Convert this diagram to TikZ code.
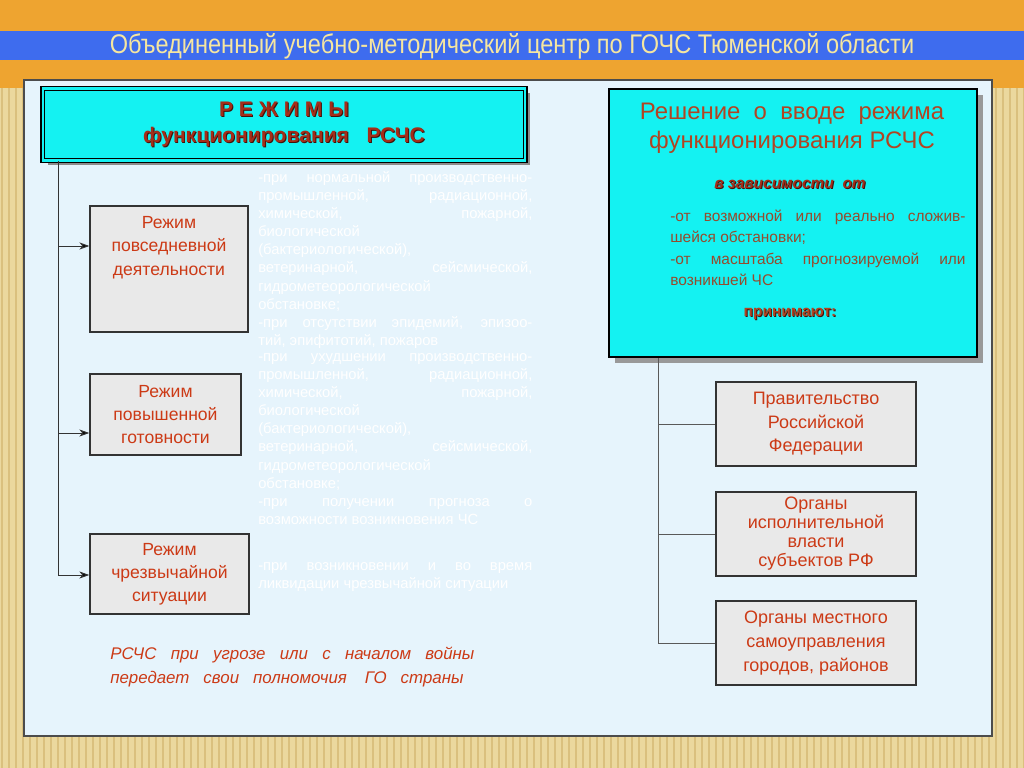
\documentclass[tikz,border=0pt]{standalone}
\usepackage{fontspec}
\setmainfont{Liberation Sans}
\usepackage{graphicx}
\usepackage{xcolor}
\usepackage{tikz}
\usetikzlibrary{arrows,arrows.meta,shadows}

\definecolor{orangeband}{RGB}{238,164,48}
\definecolor{blueband}{RGB}{62,108,238}
\definecolor{titletxt}{RGB}{246,230,160}
\definecolor{wood}{RGB}{235,216,158}
\definecolor{woodline}{RGB}{218,192,126}
\definecolor{panel}{RGB}{230,244,252}
\definecolor{cyanbox}{RGB}{20,242,242}
\definecolor{boxgray}{RGB}{233,233,233}
\definecolor{redtxt}{RGB}{204,58,22}
\definecolor{headred}{RGB}{165,45,25}
\definecolor{headbr}{RGB}{178,68,34}
\definecolor{listbr}{RGB}{150,75,45}

\newcommand{\tenshad}[1]{\rlap{\kern0.7pt\raisebox{-0.7pt}{\color{black!60!headred}#1}}#1}

\begin{document}
\begin{tikzpicture}[x=0.025cm,y=-0.025cm,
  rezhim/.style={draw=black!80,line width=0.9pt,fill=boxgray,text=redtxt,align=center,
                 font=\fontsize{12.5}{16.4}\selectfont},
  organ/.style={rezhim,minimum width=5cm,minimum height=2.1cm},
  belyj/.style={text=white,text width=6.85cm,align=justify,inner sep=0pt,anchor=north west,
                font=\fontsize{10.5}{12.9}\selectfont},
  trunk/.style={line width=0.7pt,draw=black!80},
  strelka/.style={->,>={Stealth[length=7pt,width=5pt,inset=2pt]}}]
\useasboundingbox (0,0) rectangle (1024,768);

\fill[wood] (0,0) rectangle (1024,768);
\foreach \x in {2,9,...,1024}
  \draw[woodline,line width=1.3pt] (\x,0) -- (\x,768);
\fill[orangeband] (0,0) rectangle (1024,88);
\fill[blueband] (0,31) rectangle (1024,60);
\node[text=titletxt,inner sep=0pt] (T) at (512,46)
  {\resizebox{20.1cm}{0.5cm}{Объединенный учебно-методический центр по ГОЧС Тюменской области}};

\draw[black!70,line width=1pt,fill=panel] (24,80) rectangle (992,736);

\node[draw=black,line width=1pt,double=cyanbox,double distance=1.6pt,fill=cyanbox,
      minimum width=12.05cm,minimum height=1.8cm,align=center,text=headred,
      font=\bfseries\fontsize{15}{18.5}\selectfont,
      drop shadow={shadow xshift=3.5pt,shadow yshift=-3.5pt,fill=black!45,opacity=1}]
      (R) at (284,124.5) {\tenshad{Р Е Ж И М Ы}\\ \tenshad{функционирования \ \ РСЧС}};

\node[rezhim,minimum width=3.95cm,minimum height=3.15cm] (R1) at (169,269)   {Режим\\повседневной\\деятельности\\~\\~};
\node[rezhim,minimum width=3.78cm,minimum height=2.03cm] (R2) at (165.5,414.5) {Режим\\повышенной\\готовности};
\node[rezhim,minimum width=3.98cm,minimum height=2cm]    (R3) at (169.5,574)  {Режим\\чрезвычайной\\ситуации};

\coordinate (a1) at (58,246);
\coordinate (a2) at (58,433);
\coordinate (a3) at (58,575);
\draw[trunk] (a1 |- R.south) -- (a3);
\path[trunk]
      (a1) edge[strelka] (a1 -| R1.west)
      (a2) edge[strelka] (a2 -| R2.west)
      (a3) edge[strelka] (a3 -| R3.west);

\node[belyj] (W1) at (258,171)
  {-при нормальной производственно-\linebreak промышленной, радиационной,\linebreak
   химической, пожарной,\linebreak биологической\newline (бактериологической),\newline
   ветеринарной, сейсмической,\linebreak гидрометеорологической\newline обстановке;\newline
   -при отсутствии эпидемий, эпизоо-\linebreak тий, эпифитотий, пожаров};
\node[belyj] (W2) at (258,353)
  {-при ухудшении производственно-\linebreak промышленной, радиационной,\linebreak
   химической, пожарной,\linebreak биологической\newline (бактериологической),\newline
   ветеринарной, сейсмической,\linebreak гидрометеорологической\newline обстановке;\newline
   -при получении прогноза о\linebreak возможности возникновения ЧС};
\node[belyj] (W3) at (258,562)
  {-при возникновении и во время\linebreak ликвидации чрезвычайной ситуации};

\node[text=redtxt,text width=9.1cm,align=justify,inner sep=0pt,anchor=north west,
      font=\itshape\fontsize{12}{17}\selectfont] (G) at (110,647)
  {РСЧС при угрозе или с началом войны\linebreak
   передает\hspace{0.35cm}свои\hspace{0.35cm}полномочия\hspace{0.45cm}ГО\hspace{0.35cm}страны};

\node[draw=black,line width=1.5pt,fill=cyanbox,minimum width=9.2cm,minimum height=6.7cm,
      drop shadow={shadow xshift=4pt,shadow yshift=-4pt,fill=black!40,opacity=1}] (S) at (793,223) {};
\node[text=headbr,align=center,font=\fontsize{17}{20.6}\selectfont] (S1) at (792,128)
  {Решение \ о \ вводе \ режима\\функционирования РСЧС};
\node[text=headred,font=\bfseries\itshape\fontsize{11}{14}\selectfont] (S2) at (790,185)
  {\tenshad{в зависимости \ от}};
\node[text=listbr,text width=7.38cm,align=justify,inner sep=0pt,anchor=north west,
      font=\fontsize{11}{15.1}\selectfont] (S3) at (670,210)
  {-от возможной или реально сложив-\linebreak шейся обстановки;\newline
   -от масштаба прогнозируемой или\linebreak возникшей ЧС};
\node[text=headbr,font=\bfseries\fontsize{11}{14}\selectfont] (S4) at (790,314)
  {\tenshad{принимают:}};

\node[organ,font=\fontsize{12.8}{16.8}\selectfont] (O1) at (816,424) {Правительство\\Российской\\Федерации};
\node[organ,font=\fontsize{12.8}{13.5}\selectfont] (O2) at (816,534) {Органы\\исполнительной\\власти\\субъектов РФ};
\node[organ,font=\fontsize{12.8}{16.8}\selectfont] (O3) at (816,643) {Органы местного\\самоуправления\\городов, районов};

\coordinate (b1) at (658,424);
\coordinate (b2) at (658,534);
\coordinate (b3) at (658,643);
\draw[trunk,draw=black!65] (b1 |- S.south) -- (b3);
\path[trunk,draw=black!65]
      (b1) edge (b1 -| O1.west)
      (b2) edge (b2 -| O2.west)
      (b3) edge (b3 -| O3.west);
\end{tikzpicture}
\end{document}
